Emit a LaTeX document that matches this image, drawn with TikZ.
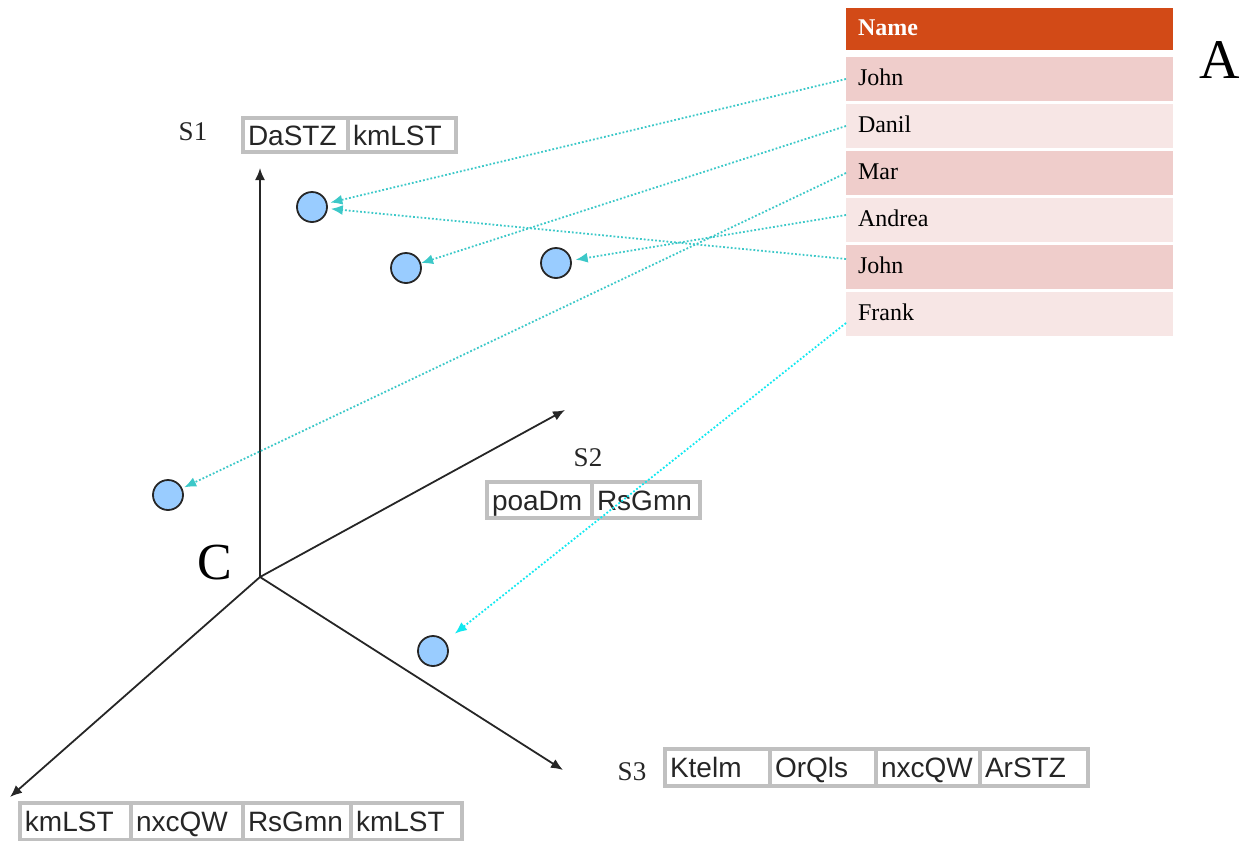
\documentclass[tikz,border=0pt]{standalone}
\usepackage{fontspec}
\setmainfont{Liberation Serif}
\setsansfont{Liberation Sans}
\usetikzlibrary{arrows.meta}
\usetikzlibrary{positioning}
\tikzset{>={Latex[width=5pt,length=6pt]}}
\definecolor{rust}{HTML}{D24A17}
\definecolor{rowdark}{HTML}{EFCDCB}
\definecolor{rowlight}{HTML}{F7E6E5}
\definecolor{linkteal}{HTML}{3CC8C8}
\definecolor{linkcyan}{HTML}{10E8F0}
\definecolor{dotblue}{HTML}{99CCFF}
\definecolor{cellgray}{HTML}{C0C0C0}

\begin{document}
\begin{tikzpicture}[x=0.5pt,y=-0.5pt,
  cell/.style={draw=cellgray, line width=1.9pt, outer sep=0pt,
    inner xsep=2.5pt, inner ysep=0pt, minimum height=#1, align=left,
    text height=12pt, text depth=2pt,
    font=\sffamily\fontsize{14}{15}\selectfont, text=black!85},
  row/.style={fill=#1, minimum width=163.5pt, minimum height=22pt,
    text width=151.5pt, inner xsep=6pt, inner ysep=0pt, align=left,
    text height=9pt, text depth=3pt,
    outer sep=0pt, font=\fontsize{12}{13}\selectfont},
  dot/.style={circle, draw=black!85, line width=0.9pt, fill=dotblue,
    minimum size=15pt, inner sep=0pt},
  axis/.style={->, line width=0.9pt, draw=black!85},
  link/.style={->, densely dotted, line width=0.9pt, draw=linkteal,
    color=linkteal},
  lbl/.style={font=\fontsize{13.5}{14}\selectfont, text=black!85}]

  \useasboundingbox (0,0) rectangle (1243,841);

  %% axes
  \coordinate (o) at (260,577);
  \coordinate (e1) at (260,168);
  \coordinate (e2) at (565,410);
  \coordinate (e3) at (563,770);
  \coordinate (e4) at (10,797);
  \draw[axis] (o) -- (e1);
  \draw[axis] (o) -- (e2);
  \draw[axis] (o) -- (e3);
  \draw[axis] (o) -- (e4);

  \node[font=\fontsize{26}{28}\selectfont] (c) at (215,563) {C};
  \node[font=\fontsize{28}{30}\selectfont] (a) at (1220,60) {A};

  \node[lbl] (l1) at (193,132) {S1};
  \node[lbl] (l2) at (588,458) {S2};
  \node[lbl] (l3) at (632,772) {S3};

  %% boxes
  \node[cell=17pt, text width=47.5pt, anchor=north west] (s1a) at (243,118) {DaSTZ};
  \node[cell=17pt, text width=49pt, right=0pt of s1a] (s1b) {kmLST};

  \node[cell=18pt, text width=47.5pt, anchor=north west] (s2a) at (487,482) {poaDm};
  \node[cell=18pt, text width=49pt, right=0pt of s2a] (s2b) {RsGmn};

  \node[cell=18.5pt, text width=47.5pt, anchor=north west] (s3a) at (665,749) {Ktelm};
  \node[cell=18.5pt, text width=48pt, right=0pt of s3a] (s3b) {OrQls};
  \node[cell=18.5pt, text width=47pt, right=0pt of s3b] (s3c) {nxcQW};
  \node[cell=18.5pt, text width=49pt, right=0pt of s3c] (s3d) {ArSTZ};

  \node[cell=18.5pt, text width=50.5pt, anchor=north west] (s4a) at (20,803) {kmLST};
  \node[cell=18.5pt, text width=51pt, right=0pt of s4a] (s4b) {nxcQW};
  \node[cell=18.5pt, text width=49pt, right=0pt of s4b] (s4c) {RsGmn};
  \node[cell=18.5pt, text width=50.5pt, right=0pt of s4c] (s4d) {kmLST};

  %% table
  \node[row=rust, minimum height=21pt, text=white, anchor=north west,
    font=\bfseries\fontsize{12}{13}\selectfont] (hd) at (846,8) {Name};
  \node[row=rowdark, anchor=north west] (r1) at (846,57) {John};
  \node[row=rowlight, below=1.5pt of r1] (r2) {Danil};
  \node[row=rowdark, below=1.5pt of r2] (r3) {Mar};
  \node[row=rowlight, below=1.5pt of r3] (r4) {Andrea};
  \node[row=rowdark, below=1.5pt of r4] (r5) {John};
  \node[row=rowlight, below=1.5pt of r5] (r6) {Frank};

  %% points
  \node[dot] (p1) at (312,207) {};
  \node[dot] (p2) at (406,268) {};
  \node[dot] (p3) at (556,263) {};
  \node[dot] (p4) at (168,495) {};
  \node[dot] (p5) at (433,651) {};

  \draw[link, shorten >=1.5pt] (r1.west) -- (p1);
  \draw[link] (r2.west) -- (p2);
  \draw[link, shorten >=1pt] (r3.west) -- (p4);
  \draw[link, shorten >=2pt] ([yshift=2.5pt]r4.west) -- (p3);
  \draw[link, shorten >=1.5pt] ([yshift=4pt]r5.west) -- (p1);
  \draw[link, draw=linkcyan, color=linkcyan, shorten >=6pt]
    ([yshift=-4.5pt]r6.west) -- (p5);

\end{tikzpicture}
\end{document}
